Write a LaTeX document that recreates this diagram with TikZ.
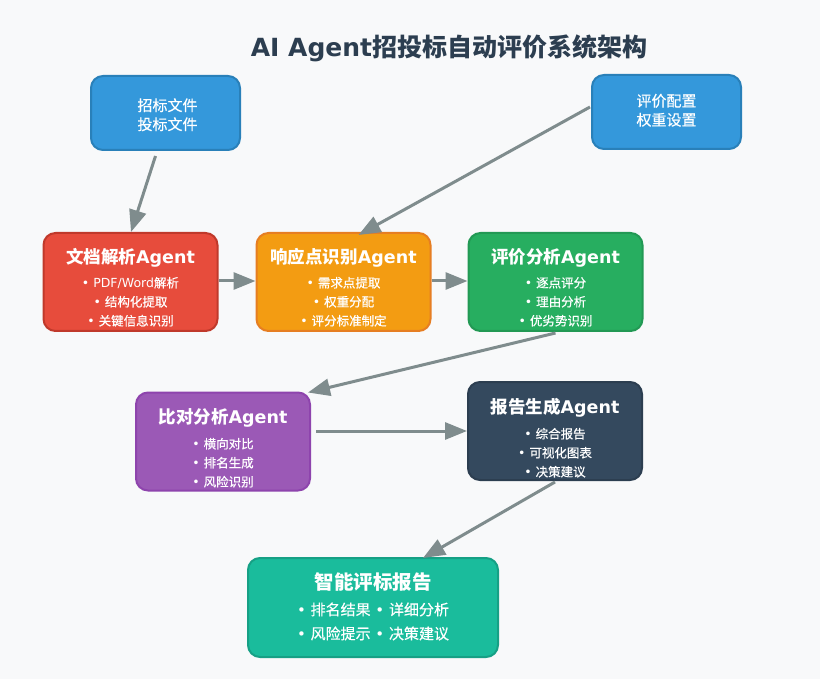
\documentclass[tikz,border=0pt]{standalone}
\usepackage{fontspec}
\setmainfont{DejaVu Sans}
\newfontfamily\cjkf{Noto Sans CJK SC}
\newfontfamily\cjkm[FakeBold=0.5]{Noto Sans CJK SC}
\newcommand\zh[1]{{\cjkf #1}}
\usetikzlibrary{arrows.meta,calc}
\definecolor{bgc}{HTML}{F8F9FA}
\definecolor{titc}{HTML}{2C3E50}
\definecolor{arrc}{HTML}{7F8C8D}
\definecolor{bluef}{HTML}{3498DB}\definecolor{blueb}{HTML}{2980B9}
\definecolor{redf}{HTML}{E74C3C}\definecolor{redb}{HTML}{C0392B}
\definecolor{orgf}{HTML}{F39C12}\definecolor{orgb}{HTML}{E67E22}
\definecolor{grnf}{HTML}{27AE60}\definecolor{grnb}{HTML}{229954}
\definecolor{purf}{HTML}{9B59B6}\definecolor{purb}{HTML}{8E44AD}
\definecolor{drkf}{HTML}{34495E}\definecolor{drkb}{HTML}{2C3E50}
\definecolor{tealf}{HTML}{1ABC9C}\definecolor{tealb}{HTML}{16A085}
\begin{document}
\begin{tikzpicture}[x=1pt,y=-1pt,
  box/.style={rounded corners=12pt, line width=2pt, inner sep=0pt},
  agent/.style={box, minimum width=174pt, minimum height=98pt},
  txt/.style={text=white, inner sep=0pt, anchor=base},
  ttl/.style={txt, font=\bfseries\fontsize{17.5}{20}\selectfont},
  bul/.style={txt, font=\fontsize{12.5}{14}\selectfont\let\cjkf\cjkm},
  inp/.style={txt, font=\fontsize{15}{17}\selectfont\let\cjkf\cjkm},
  arr/.style={draw=arrc, line width=3pt, -{Triangle[length=22pt,width=17pt]}}]
\path[fill=bgc, use as bounding box] (0,0) rectangle (820,679);

\node[text=titc, inner sep=0pt, anchor=base, font=\bfseries\fontsize{25}{28}\selectfont] (title) at (449,57) {AI Agent\zh{招投标自动评价系统架构}};

% input boxes
\node[box, fill=bluef, draw=blueb, minimum width=149pt, minimum height=74pt] (in1) at (165.5,113) {};
\node[inp] (in1a) at ($(in1.center)+(2,-2)$) {\zh{招标文件}};
\node[inp] (in1b) at ($(in1.center)+(2,17)$) {\zh{投标文件}};
\node[box, fill=bluef, draw=blueb, minimum width=149pt, minimum height=74pt] (in2) at (666.5,112) {};
\node[inp] (in2a) at ($(in2.center)+(0,-5.5)$) {\zh{评价配置}};
\node[inp] (in2b) at ($(in2.center)+(0,13.5)$) {\zh{权重设置}};

% row 2
\node[agent, fill=redf, draw=redb] (parse) at (130.5,282) {};
\node[ttl] (parset) at ($(parse.center)+(0,-18.7)$) {\zh{文档解析}Agent};
\node[bul] (parse1) at ($(parse.center)+(0,5.5)$) {• PDF/Word\zh{解析}};
\node[bul] (parse2) at ($(parse.center)+(0,24.5)$) {• \zh{结构化提取}};
\node[bul] (parse3) at ($(parse.center)+(0,43.5)$) {• \zh{关键信息识别}};

\node[agent, fill=orgf, draw=orgb] (resp) at (343.5,282) {};
\node[ttl] (respt) at ($(resp.center)+(0,-18.7)$) {\zh{响应点识别}Agent};
\node[bul] (resp1) at ($(resp.center)+(0,5.5)$) {• \zh{需求点提取}};
\node[bul] (resp2) at ($(resp.center)+(0,24.5)$) {• \zh{权重分配}};
\node[bul] (resp3) at ($(resp.center)+(0,43.5)$) {• \zh{评分标准制定}};

\node[agent, fill=grnf, draw=grnb] (eval) at (555.5,282) {};
\node[ttl] (evalt) at ($(eval.center)+(0,-18.7)$) {\zh{评价分析}Agent};
\node[bul] (eval1) at ($(eval.center)+(0,5.5)$) {• \zh{逐点评分}};
\node[bul] (eval2) at ($(eval.center)+(0,24.5)$) {• \zh{理由分析}};
\node[bul] (eval3) at ($(eval.center)+(0,43.5)$) {• \zh{优劣势识别}};

% row 3
\node[agent, fill=purf, draw=purb] (comp) at (223,441.5) {};
\node[ttl] (compt) at ($(comp.center)+(0,-18.2)$) {\zh{比对分析}Agent};
\node[bul] (comp1) at ($(comp.center)+(0,7)$) {• \zh{横向对比}};
\node[bul] (comp2) at ($(comp.center)+(0,26)$) {• \zh{排名生成}};
\node[bul] (comp3) at ($(comp.center)+(0,45)$) {• \zh{风险识别}};

\node[agent, fill=drkf, draw=drkb] (rep) at (555,431) {};
\node[ttl] (rept) at ($(rep.center)+(0,-17.7)$) {\zh{报告生成}Agent};
\node[bul] (rep1) at ($(rep.center)+(0,7.5)$) {• \zh{综合报告}};
\node[bul] (rep2) at ($(rep.center)+(0,26.5)$) {• \zh{可视化图表}};
\node[bul] (rep3) at ($(rep.center)+(0,45.5)$) {• \zh{决策建议}};

% final
\node[box, fill=tealf, draw=tealb, minimum width=250pt, minimum height=99pt] (final) at (373,607.5) {};
\node[txt, font=\bfseries\fontsize{19.5}{22}\selectfont] (finalt) at ($(final.center)+(0,-18.5)$) {\zh{智能评标报告}};
\node[inp] (final1) at ($(final.center)+(0,7.7)$) {• \zh{排名结果} • \zh{详细分析}};
\node[inp] (final2) at ($(final.center)+(0,31.7)$) {• \zh{风险提示} • \zh{决策建议}};

% connectors
\draw[arr] ([xshift=-10pt,yshift=-5pt]in1.south) -- ([xshift=0.5pt]parse.north);
\draw[arr] ([xshift=-1pt,yshift=5pt]in2.west) -- ([xshift=15pt,yshift=-3pt]resp.north);
\draw[arr] ([yshift=1pt]parse.east) -- ([yshift=1pt]resp.west);
\draw[arr] ([yshift=1pt]resp.east) -- ([yshift=1pt]eval.west);
\draw[arr] ([yshift=-1pt]eval.south) -- ([xshift=-3pt,yshift=-1pt]comp.north east);
\draw[arr] ([xshift=5pt]comp.east |- rep.west) -- (rep.west);
\draw[arr] ([yshift=-1pt]rep.south) -- ([xshift=50pt,yshift=-1pt]final.north);
\end{tikzpicture}
\end{document}
